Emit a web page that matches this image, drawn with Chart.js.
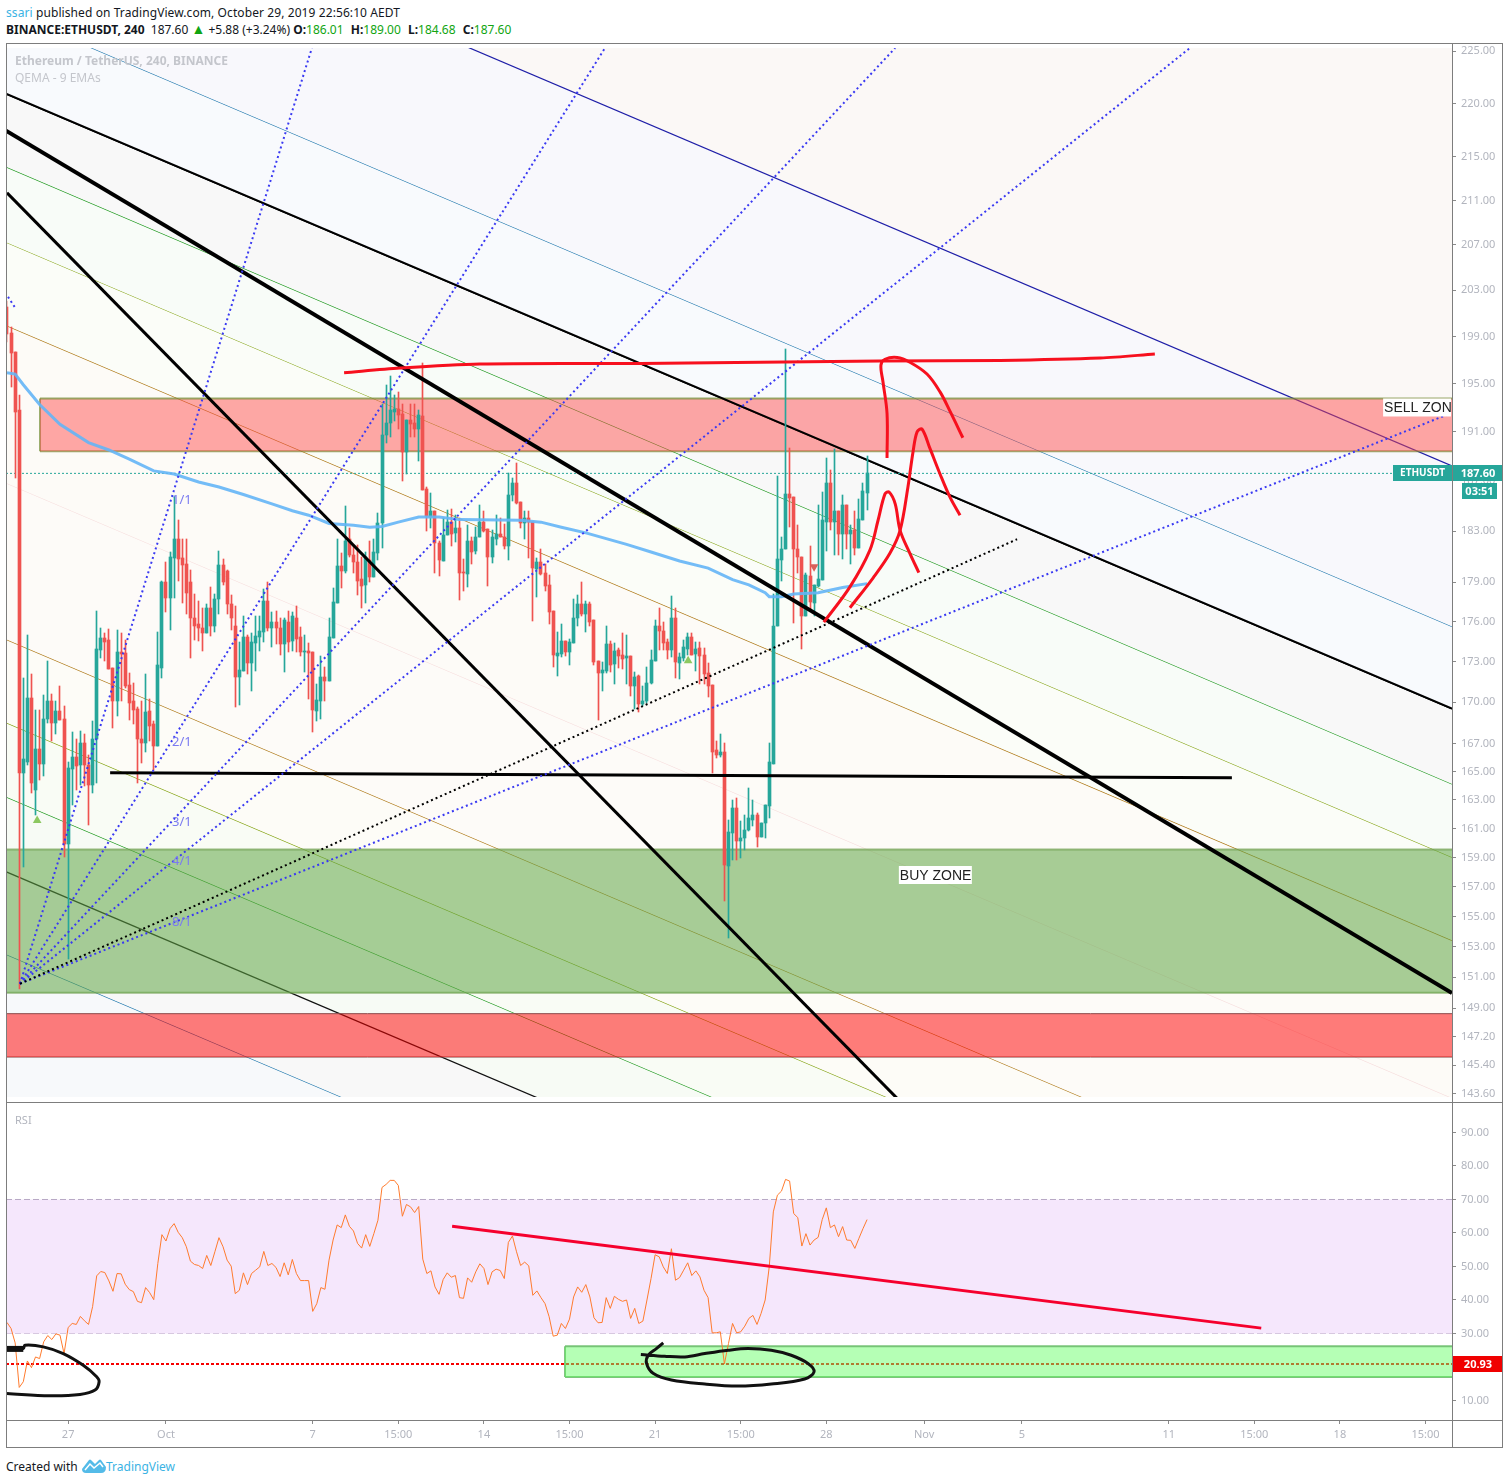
<!DOCTYPE html>
<html>
<head>
<meta charset="utf-8">
<title>ETHUSDT 240</title>
<script src="https://cdn.jsdelivr.net/npm/chart.js@4/dist/chart.umd.js"></script>
<style>
  html, body { margin: 0; padding: 0; background: #fff; }
  body { width: 1509px; height: 1484px; position: relative; overflow: hidden; font-family: "Noto Sans", sans-serif; }
  .abs { position: absolute; white-space: nowrap; }
  #priceWrap { position: absolute; left: 0; top: 43px; width: 1509px; height: 1059px; overflow: hidden; }
  #rsiWrap { position: absolute; left: 0; top: 1103px; width: 1509px; height: 344px; overflow: hidden; }
  .rule { position: absolute; background: #7d7d7d; }
  .gr { color: #11a511; }
  .bd { font-weight: 700; }
  .gap { margin-left: 4px; }
</style>
</head>
<body>
<div id="priceWrap"><canvas id="price" width="1509" height="1059"></canvas></div>
<div id="rsiWrap"><canvas id="rsi" width="1509" height="344"></canvas></div>

<div class="rule" style="left:6px;top:43px;width:1497px;height:1px"></div>
<div class="rule" style="left:6px;top:1102px;width:1497px;height:1px"></div>
<div class="rule" style="left:6px;top:1420px;width:1497px;height:1px"></div>
<div class="rule" style="left:6px;top:1447px;width:1497px;height:1px"></div>
<div class="rule" style="left:6px;top:43px;width:1px;height:1405px"></div>
<div class="rule" style="left:1452px;top:43px;width:1px;height:1405px"></div>
<div class="rule" style="left:1502px;top:43px;width:1px;height:1405px"></div>

<div class="abs" style="left:6px;top:4px;font-size:12px;line-height:17px;letter-spacing:0.09px;color:#131722"><span style="color:#3bb3e4">ssari</span> published on TradingView.com, October 29, 2019 22:56:10 AEDT</div>
<div class="abs" style="left:6px;top:21px;font-size:12px;line-height:17px;color:#131722"><span class="bd">BINANCE:ETHUSDT, 240</span>&nbsp; 187.60 <span class="gr" style="font-size:14px;line-height:14px">&#9650;</span> +5.88 (+3.24%) <span class="bd">O:</span><span class="gr">186.01</span> <span class="bd gap">H:</span><span class="gr">189.00</span> <span class="bd gap">L:</span><span class="gr">184.68</span> <span class="bd gap">C:</span><span class="gr">187.60</span></div>
<div class="abs" style="left:15px;top:52px;font-size:12px;line-height:17px;font-weight:700;color:#c4c6cc">Ethereum / TetherUS, 240, BINANCE</div>
<div class="abs" style="left:15px;top:69px;font-size:12px;line-height:17px;color:#c4c6cc">QEMA - 9 EMAs</div>
<div class="abs" style="left:15px;top:1111px;font-size:11px;line-height:17px;color:#b2b5be">RSI</div>

<div class="abs" style="left:6px;top:1458px;font-size:12px;line-height:17px;color:#131722">Created with</div>
<svg class="abs" style="left:82px;top:1458px" width="24" height="16" viewBox="0 0 24 16">
  <path d="M0 11 L7 2 Q8 1 9 2 L13 6 L17 2 Q18 1 19 2 L24 9 Q24 15 19 15 L4 15 Q0 15 0 11 Z" fill="#54bbe8"/>
  <path d="M3 12 L8 6 L12 10 L18 5 L21 9" fill="none" stroke="#fff" stroke-width="1.5"/>
</svg>
<div class="abs" style="left:106px;top:1458px;font-size:12px;line-height:17px;color:#3bb3e4">TradingView</div>

<script>
// OHLC, one row per 10 bars (4h bars)
const opens = [
  201.5,199.3,197.7,192.75,164.9,165.7,170.3,163.65,166.6,165.5,
  168.75,170.05,168.45,169.35,168.8,159.9,165.15,166.0,165.45,167.05,
  165.45,164.05,167.3,173.85,174.75,174.6,172.5,170.05,173.7,173.6,
  171.25,170.1,169.5,167.35,167.0,169.35,168.4,166.8,172.55,179.0,
  177.8,180.9,182.35,180.9,180.4,179.05,176.25,175.8,175.55,175.1,
  177.05,175.65,177.75,180.35,179.9,177.3,175.65,171.85,172.3,174.8,
  172.9,174.35,174.8,175.2,177.6,175.55,176.0,175.5,174.3,176.0,
  174.5,176.3,174.8,173.7,173.75,173.7,169.35,170.1,171.85,171.55,
  174.75,177.45,180.25,179.9,182.35,181.1,180.6,179.25,178.8,180.7,
  179.4,181.25,183.6,190.7,191.7,192.65,192.9,192.5,189.3,192.0,
  191.7,191.2,192.3,186.35,184.1,184.55,182.05,180.65,182.65,183.7,
  182.85,183.2,179.8,179.65,182.2,181.4,182.5,183.7,183.15,181.0,
  182.4,182.8,182.55,181.8,185.85,186.85,185.3,183.6,184.0,183.7,
  180.0,180.6,179.75,178.8,176.8,173.4,173.55,174.55,173.7,174.35,
  176.25,177.3,176.55,177.3,176.1,173.05,172.15,172.3,174.3,172.8,
  173.85,173.5,173.25,173.4,171.15,171.9,169.85,170.05,171.4,173.05,
  175.65,175.25,174.45,173.85,176.3,172.9,173.25,173.95,174.8,173.55,
  174.0,173.45,172.15,171.25,166.5,166.15,166.35,158.4,160.65,162.45,
  160.1,160.35,160.9,161.55,161.95,160.4,161.35,162.55,165.55,175.7,
  180.7,181.55,185.95,185.7,181.55,181.0,176.4,179.5,177.45,178.75,
  179.2,183.75,186.85,183.75,184.6,182.75,185.1,182.8,183.05,181.7,
  183.85,186.01
];
const highs = [
  202.1,199.85,197.7,194.0,171.8,174.95,172.05,169.45,169.45,170.55,
  173.05,170.6,170.1,171.15,169.7,165.65,167.8,167.35,167.9,167.65,
  166.15,168.6,176.8,175.55,175.1,175.4,172.5,175.35,175.1,174.6,
  172.15,171.4,169.65,170.05,172.05,170.2,168.6,175.2,179.1,180.55,
  181.35,185.8,183.9,182.35,182.4,179.95,178.1,177.6,177.05,177.35,
  178.65,178.1,181.4,180.8,179.95,178.05,177.2,174.45,176.45,174.95,
  175.1,176.45,176.4,178.5,179.05,176.75,176.8,176.3,176.3,176.8,
  176.75,177.15,175.6,174.95,174.35,173.7,171.35,173.4,172.6,176.3,
  178.6,182.4,181.25,185.0,183.2,181.9,181.9,180.95,181.35,182.25,
  182.35,184.4,193.3,194.9,195.65,194.05,194.3,193.25,192.0,193.3,
  193.25,192.8,196.7,186.5,186.05,184.55,182.25,184.0,184.7,184.75,
  184.25,184.0,180.8,183.45,182.5,183.35,185.1,184.55,183.15,183.05,
  184.25,184.0,183.55,187.65,187.25,188.45,185.3,184.6,184.6,183.7,
  180.85,181.55,180.4,179.55,176.8,175.2,175.8,174.55,174.65,177.75,
  178.05,179.05,177.6,177.5,176.1,173.05,172.95,175.7,174.5,174.35,
  174.0,175.1,174.95,173.4,172.2,172.0,171.2,172.6,173.85,176.1,
  177.0,176.0,174.65,177.95,177.05,173.6,174.6,175.1,175.1,174.45,
  174.45,174.0,172.9,171.25,167.2,167.65,167.05,161.55,163.0,163.15,
  161.5,161.9,163.85,162.95,162.05,161.4,162.65,167.0,178.1,187.4,
  182.55,197.95,189.65,185.7,183.45,181.0,179.7,181.8,178.8,185.1,
  186.1,188.85,187.9,189.55,184.6,185.9,185.1,183.45,184.55,185.55,
  186.85,189.0
];
const lows = [
  198.5,194.7,187.25,150.25,158.35,165.45,163.45,161.95,164.4,164.7,
  168.5,167.15,167.7,168.7,159.0,152.2,162.6,163.7,164.05,164.0,
  161.2,163.45,164.2,173.25,173.05,172.45,168.1,169.0,170.1,171.0,
  168.7,168.4,164.2,165.6,166.4,167.2,165.1,166.8,171.8,176.75,
  175.35,177.8,179.1,177.45,176.55,173.25,174.6,174.5,173.75,175.1,
  174.9,175.2,176.55,178.8,176.55,175.35,169.65,169.8,172.3,172.1,
  170.85,172.3,173.75,174.45,175.25,174.1,174.3,173.45,172.2,173.7,
  173.75,173.7,173.4,172.2,170.25,167.85,168.6,168.8,170.1,171.55,
  174.75,177.45,178.6,179.75,180.95,179.7,178.0,177.05,177.45,179.05,
  179.4,180.7,181.7,190.05,190.6,191.85,191.25,187.0,187.55,190.6,
  190.6,188.6,186.3,183.0,183.2,179.75,179.5,180.65,182.65,181.8,
  182.1,177.65,178.3,178.65,180.4,181.2,182.5,182.9,178.75,180.5,
  181.9,182.5,181.55,180.7,185.4,185.15,183.2,182.35,180.85,176.05,
  177.9,179.55,178.3,175.8,172.6,171.95,173.3,173.4,172.75,174.35,
  175.65,176.4,175.2,175.65,172.75,168.7,170.8,172.15,172.2,171.35,
  172.5,172.45,171.35,170.45,169.5,169.3,169.7,169.95,171.35,173.05,
  173.85,173.85,173.2,173.3,171.8,171.7,173.05,173.45,173.45,172.3,
  171.35,171.35,170.4,164.9,165.95,166.05,156.05,153.55,158.8,158.8,
  158.95,159.5,160.85,161.15,159.7,160.4,160.3,161.7,165.55,175.65,
  179.1,181.55,183.3,175.9,179.75,173.9,176.4,176.8,176.4,178.65,
  179.2,181.4,183.05,181.1,181.15,180.8,181.55,180.4,181.1,181.7,
  183.85,184.68
];
const closes = [
  199.2,197.55,192.65,164.9,165.9,170.3,164.2,166.6,165.5,168.8,
  170.05,168.45,169.35,168.7,159.9,165.25,166.0,165.4,167.05,165.45,
  164.05,167.35,173.9,174.75,174.45,172.45,170.05,173.7,173.55,171.2,
  169.95,169.45,167.35,167.05,169.3,168.25,166.8,172.75,179.05,177.8,
  180.95,182.35,180.8,180.35,178.2,176.25,175.7,175.55,175.15,177.05,
  175.65,177.75,180.35,179.05,177.3,176.25,171.85,172.4,174.8,172.9,
  174.45,174.9,175.25,177.6,175.55,175.95,175.5,174.3,176.1,174.45,
  176.4,174.65,173.7,173.75,173.6,169.45,170.15,171.85,171.55,174.8,
  177.5,180.25,179.9,182.25,181.1,180.55,179.1,178.75,180.95,179.4,
  181.35,183.6,190.75,191.75,192.75,192.9,192.4,189.3,192.0,191.6,
  191.2,192.4,186.3,184.15,184.55,182.05,180.7,182.7,183.7,182.75,
  183.2,179.75,179.75,182.2,181.35,182.55,183.7,183.0,181.0,182.5,
  182.8,182.5,181.8,185.9,186.85,185.25,183.6,184.0,183.7,180.1,
  180.55,179.65,178.75,176.75,173.45,173.65,174.55,173.7,174.45,176.3,
  177.3,176.55,177.3,176.0,172.95,172.15,172.4,174.3,172.75,173.75,
  173.4,173.2,173.4,171.15,171.85,169.85,170.1,171.4,173.1,175.65,
  175.25,174.35,173.85,176.3,172.95,173.3,174.05,174.8,173.45,173.9,
  173.4,172.1,171.2,166.35,166.15,166.35,158.45,160.75,162.45,160.1,
  160.35,160.9,161.7,161.95,160.4,161.4,162.6,165.65,175.65,180.8,
  181.55,185.95,185.6,181.55,180.95,176.4,179.55,177.5,178.8,179.25,
  183.85,186.85,183.75,184.6,182.75,185.1,182.8,183.05,181.7,183.95,
  186.15,187.6
];
const rsiValues = [
  33.3,31.5,27.2,13.9,15.6,21.8,19.8,23.0,22.5,27.5,
  29.4,28.2,29.9,29.5,24.0,31.8,33.0,32.7,35.1,33.8,
  32.7,38.0,47.2,48.5,48.2,45.7,42.6,47.9,47.8,44.7,
  43.1,42.5,39.6,39.2,43.7,42.2,40.1,50.9,59.5,57.6,
  61.3,62.8,60.2,58.6,55.9,51.6,50.6,50.3,49.4,53.3,
  50.3,54.4,58.6,55.9,51.9,50.1,41.9,42.9,48.1,44.6,
  47.9,48.9,49.9,54.5,50.3,50.9,49.7,47.0,51.1,47.5,
  52.1,47.9,45.8,45.8,45.8,36.6,38.9,43.7,43.2,51.9,
  57.9,62.4,61.6,65.4,62.0,60.6,56.9,55.5,59.5,56.0,
  59.8,63.8,73.6,74.5,75.7,75.7,74.2,65.0,68.5,67.8,
  66.1,67.9,52.2,47.9,48.7,43.9,41.7,46.1,48.1,46.8,
  47.3,40.7,40.5,46.6,45.3,48.4,50.8,49.4,44.6,48.4,
  49.2,48.8,46.4,57.2,59.1,54.4,50.3,51.3,50.2,41.4,
  42.7,40.7,38.9,35.0,29.2,29.5,33.0,31.5,34.3,40.9,
  43.9,42.3,44.6,40.9,34.7,33.2,33.3,40.7,37.5,41.1,
  40.2,39.6,40.0,34.5,37.5,33.0,33.7,40.0,46.4,53.5,
  52.9,49.9,47.9,55.3,45.9,46.7,48.9,51.1,47.3,48.7,
  46.9,42.9,40.7,30.2,30.2,30.5,20.93,27.0,33.0,30.2,
  30.5,32.2,34.5,35.4,32.7,36.0,40.0,49.9,66.3,71.3,
  72.5,76.0,75.5,65.8,64.6,56.1,59.8,56.4,57.9,58.7,
  64.0,67.5,61.6,62.4,58.9,61.9,57.9,57.8,55.4,58.4,
  61.3,64.0
];

// 200 period ema, only the corner points of the drawn line
const emaBars = [0,2,4,8,13,20,25,30,36,41,47,52,58,65,70,74,79,85,89,92,96,101,106,111,126,131,136,142,147,152,158,165,172,178,182,186,187,190,193,199,205,211];
const emaValues = [195.9,195.8,194.9,193.25,191.6,190.1,189.5,188.75,187.8,187.55,186.9,186.5,185.9,185.15,184.6,184.25,183.6,183.45,183.3,183.35,183.7,184.1,184.1,183.9,183.85,183.7,183.3,182.85,182.4,181.95,181.35,180.65,180.1,179.2,178.8,178.2,177.9,177.9,178.1,178.2,178.6,178.9];

// axes
const priceTicks = [225,220,215,211,207,203,199,195,191,187,183,179,176,173,170,167,165,163,161,159,157,155,153,151,149,147.2,145.4,143.6];
const rsiTicks = [90,80,70,60,50,40,30,10];
const xTickBars = [15,39,75,96,117,138,159,180,201,225,249,285,306,327,348];
const xTickLabels = ['27','Oct','7','15:00','14','15:00','21','15:00','28','Nov','5','11','15:00','18','15:00'];
const lastPrice = 187.6;
const rsiLevel = 20.93;

// channel lines: price at the left and right edge of the pane, top to bottom
const channelLeft = [245.3,228.9,220.94,214.08,207.24,199.95,186.83,174.66,168.51,163.21,158.07,152.5];
const channelRight = [188.2,175.63,169.52,164.11,159.01,153.42,143.35,134.0,129.29,125.22,121.27,117.0];
const channelColors = ['#1f1fa8','#1f78ad','#000000','#1f9a1f','#84a312','#b07c1c','#f6dcdc','#b07c1c','#84a312','#1f9a1f','#111111','#1f78ad'];
const channelWidths = [1.2,1.2,2,1.2,1.2,1.2,1.2,1.2,1.2,1.2,2.5,1.2];
const channelFills = ['#f8f8fc','#f8fafd','#f8f8f8','#f8fcf8','#fbfdf8','#fdfbf7','#fdfbf8','#fdfcf7','#f9fcf5','#f7fbf5','#f8f8f8','#f7f9fb'];
const aboveChannelFill = '#fbf8f6';

// other drawn lines [bar, price]
const thickLine = [[-0.25,217.44],[354.5,149.98]];
const steepLine = [[0,211.7],[231.4,140.03]];
const flatLine = [[25.3,164.9],[300.5,164.55]];
const fanOrigin = [3.19,150.58];
const fanEnds = [[74.8,225.32],[146.7,225.32],[217.9,225.32],[290.2,225.32],[353.3,192.4]];
const fanStub = [[0.25,202.42],[1.96,201.5]];
const dottedBlack = [[3.19,150.58],[247.8,182.35]];
const resistance = [[82.7,195.9],[96.4,196.3],[116,196.65],[155.3,196.7],[214.2,196.9],[243.6,196.95],[268.2,197.15],[281.6,197.5]];
const curveA = [[215.9,188.85],[215.9,192.5],[214.9,195.15],[214.4,196.55],[215.4,197.05],[218.4,197.2],[221.5,196.8],[225.7,195.8],[228.9,194.3],[231.4,192.65],[234.5,190.5]];
const curveB = [[206.8,177.05],[212.5,179.35],[216.6,181.25],[219.1,183.05],[221,186.45],[222.3,189.4],[223.3,191],[224.5,191.2],[226.4,189.65],[228.9,187.55],[231.4,185.65],[233.8,184.25]];
const curveC = [[200.4,175.95],[206.8,178.65],[211.7,181.5],[213.7,183.85],[215.4,185.95],[216.4,186.1],[217.9,185.15],[219.1,183.05],[221.5,181.25],[223.7,179.75]];

// zones [first bar, last bar, top, bottom]
const sellZone = [8.1,354.5,193.75,189.4];
const buyZone = [-0.25,354.5,159.55,150];
const lowerZone = [-0.25,354.5,148.65,145.9];

// markers and notes on the price pane
const upMarks = [[7.4,161.55],[167.1,173.05]];
const downMarks = [[198,180.2]];
const fanLabels = ['1/1','2/1','3/1','4/1','8/1'];
const fanLabelBar = 40.5;
const fanLabelPrices = [185.4,167.1,161.4,158.75,154.6];
const notes = [['SELL ZONE',337.6,193.0,70],['BUY ZONE',218.8,157.8,73]];

// rsi pane drawings [bar, rsi]
const rsiTrend = [[109.2,62.0],[307.7,31.6]];
const rsiGreenBox = [136.9,354.5,26.2,17.0];
const rsiBlobA = [[0,25.5],[4,25.5],[4.4,26.5],[8.9,26.0],[13.8,24.0],[18.7,20.5],[22,17.1],[22.6,15.6],[21.6,13.1],[17.9,11.8],[10.5,11.4],[0,12.1]];
const rsiBlobStub = [[0,25.4],[4,25.4]];
const rsiBlobB = [[161,27.2],[159.3,25.5],[157.3,23.5],[156.9,21.05],[158.5,18.1],[163,16.1],[171.2,14.9],[179.3,14.3],[187.5,14.9],[195.7,16.4],[198,18.6],[196.5,21.05],[192.4,23.5],[187.5,25.0],[181.8,25.5],[176.9,25.0],[171.2,24.0],[166.3,23.0],[161.3,23.2],[155.5,23.7]];

const UP = '#26a69a';
const DOWN = '#ef5350';
const AXIS_TEXT = '#b2b5be';
const BAR_MIN = -0.245;
const BAR_MAX = 354.5;
const TICK_FONT = { family: '"Noto Sans", sans-serif', size: 11 };

const toXY = pts => pts.map(p => ({ x: p[0], y: p[1] }));

function lineSet(pts, color, width, order, extra) {
  return Object.assign({
    type: 'line', data: toXY(pts), borderColor: color, borderWidth: width,
    pointRadius: 0, fill: false, order: order, tension: 0
  }, extra || {});
}

// three line sets: top edge filled down to the bottom edge, plus the left edge
function zoneSets(z, fillColor, edgeColor, edgeWidth, order) {
  const top = [[z[0], z[2]], [z[1], z[2]]];
  const bottom = [[z[0], z[3]], [z[1], z[3]]];
  const side = [[z[0], z[2]], [z[0], z[3]]];
  return [
    lineSet(top, edgeColor, edgeWidth, order, { fill: '+1', backgroundColor: fillColor }),
    lineSet(bottom, edgeColor, edgeWidth, order),
    lineSet(side, edgeColor, edgeWidth, order)
  ];
}

// candles come as two floating bar sets, wicks first
const barNums = opens.map((_, i) => i);
const candleColors = opens.map((o, i) => closes[i] >= o ? UP : DOWN);
const wickSet = {
  type: 'bar', order: 20, grouped: false, barThickness: 1,
  data: barNums.map(i => ({ x: i, y: [lows[i], highs[i]] })),
  backgroundColor: candleColors
};
const bodySet = {
  type: 'bar', order: 19, grouped: false, barThickness: 3,
  data: barNums.map(i => ({ x: i, y: [opens[i], closes[i]] })),
  backgroundColor: candleColors
};

const channelSets = channelLeft.map((v, i) => lineSet(
  [[BAR_MIN, v], [BAR_MAX, channelRight[i]]], channelColors[i], channelWidths[i], 100,
  i === channelLeft.length - 1
    ? { fill: 'start', backgroundColor: channelFills[i] }
    : { fill: '+1', backgroundColor: channelFills[i] }
));
// the band above the first line and the black channel line get their own sets
const topBand = lineSet([[BAR_MIN, channelLeft[0]], [BAR_MAX, channelRight[0]]], 'rgba(0,0,0,0)', 0, 101, { fill: 'end', backgroundColor: aboveChannelFill });
const blackChannel = lineSet([[BAR_MIN, channelLeft[2]], [BAR_MAX, channelRight[2]]], '#000', 2, 30);

const fanSets = fanEnds.map(e => lineSet([fanOrigin, e], '#3a3af2', 2, 10, { borderDash: [2, 3] }));

const priceDatasets = [topBand].concat(channelSets,
  zoneSets(sellZone, 'rgba(255,70,70,0.47)', 'rgba(112,140,50,0.7)', 2, 50),
  zoneSets(buyZone, 'rgba(96,165,70,0.55)', 'rgba(112,160,80,0.7)', 2, 50),
  zoneSets(lowerZone, 'rgba(255,0,0,0.51)', '#8c4a4a', 1, 50),
  [
    blackChannel,
    wickSet, bodySet,
    lineSet([[BAR_MIN, lastPrice], [BAR_MAX, lastPrice]], UP, 1, 25, { borderDash: [2, 2] }),
    lineSet(emaBars.map((b, i) => [b, emaValues[i]]), 'rgba(100,181,246,0.9)', 3, 15),
    lineSet(thickLine, '#000', 4, 12),
    lineSet(steepLine, '#000', 3, 12),
    lineSet(flatLine, '#000', 3, 12),
    lineSet(fanStub, '#3a3af2', 2, 10, { borderDash: [2, 3] }),
    lineSet(dottedBlack, '#000', 2, 10, { borderDash: [2, 3] })
  ],
  fanSets,
  [
    lineSet(resistance, '#f7101e', 3, 5, { tension: 0.3 }),
    lineSet(curveA, '#f7101e', 3, 5, { tension: 0.35 }),
    lineSet(curveB, '#f7101e', 3, 5, { tension: 0.35 }),
    lineSet(curveC, '#f7101e', 3, 5, { tension: 0.35 }),
    {
      type: 'line', data: toXY(upMarks), showLine: false, order: 8, pointStyle: 'triangle',
      pointRadius: 5, pointBackgroundColor: '#8cc860', pointBorderWidth: 0
    },
    {
      type: 'line', data: toXY(downMarks), showLine: false, order: 8, pointStyle: 'triangle',
      pointRotation: 180, pointRadius: 5, pointBackgroundColor: '#d9605a', pointBorderWidth: 0
    }
  ]);

// snap bars to whole pixels so wicks stay one pixel wide
const crispBars = {
  id: 'crispBars',
  afterDatasetsUpdate(chart) {
    chart.data.datasets.forEach((ds, n) => {
      if (ds.type !== 'bar') return;
      chart.getDatasetMeta(n).data.forEach(el => {
        el.x = Math.floor(el.x) + 0.5;
        const a = Math.round(el.y), b = Math.round(el.base);
        el.y = a;
        el.base = a === b ? a + 1 : b;
      });
    });
  }
};

function boxText(ctx, left, top, w, h, fill, text, font) {
  ctx.fillStyle = fill;
  ctx.fillRect(left, top, w, h);
  ctx.fillStyle = '#fff';
  ctx.font = font;
  ctx.textAlign = 'center';
  ctx.textBaseline = 'middle';
  ctx.fillText(text, left + w / 2, top + h / 2 + 0.5);
}

const priceNotes = {
  id: 'priceNotes',
  afterDatasetsDraw(chart) {
    const { ctx, chartArea, scales } = chart;
    ctx.save();
    ctx.beginPath();
    ctx.rect(chartArea.left, chartArea.top, chartArea.right - chartArea.left - 1, chartArea.bottom - chartArea.top);
    ctx.clip();
    ctx.textBaseline = 'middle';
    ctx.textAlign = 'left';
    ctx.font = '13px "Noto Sans", sans-serif';
    ctx.fillStyle = '#7b7bf0';
    fanLabels.forEach((t, i) => {
      ctx.fillText(t, scales.x.getPixelForValue(fanLabelBar), scales.y.getPixelForValue(fanLabelPrices[i]));
    });
    ctx.font = '14px "Liberation Sans", sans-serif';
    notes.forEach(n => {
      const x = scales.x.getPixelForValue(n[1]);
      const y = scales.y.getPixelForValue(n[2]);
      ctx.fillStyle = '#fff';
      ctx.fillRect(x, y - 9, n[3], 18);
      ctx.fillStyle = '#222';
      ctx.fillText(n[0], x + 1, y + 1);
    });
    ctx.restore();
  },
  afterDraw(chart) {
    const { ctx, scales } = chart;
    const y = Math.round(scales.y.getPixelForValue(lastPrice));
    ctx.save();
    boxText(ctx, 1393, y - 8, 59, 16, UP, 'ETHUSDT', '700 10px "Noto Sans", sans-serif');
    boxText(ctx, 1453, y - 8, 50, 16, UP, lastPrice.toFixed(2), '700 11px "Noto Sans", sans-serif');
    boxText(ctx, 1462, y + 10, 35, 16, UP, '03:51', '700 11px "Noto Sans", sans-serif');
    ctx.restore();
  }
};

const rsiNotes = {
  id: 'rsiNotes',
  afterDraw(chart) {
    const { ctx, scales } = chart;
    const y = Math.round(scales.y.getPixelForValue(rsiLevel));
    ctx.save();
    boxText(ctx, 1453, y - 8, 50, 16, '#f00000', rsiLevel.toFixed(2), '700 11px "Noto Sans", sans-serif');
    ctx.restore();
  }
};

function yAxis(extra) {
  return Object.assign({
    position: 'right',
    bounds: 'data',
    border: { display: false },
    grid: { drawOnChartArea: false, drawTicks: true, tickLength: 4, tickColor: '#8a8a8a' },
    afterFit(s) { s.width = 50; s.paddingTop = 0; s.paddingBottom = 0; }
  }, extra);
}

new Chart(document.getElementById('price'), {
  type: 'bar',
  data: { datasets: priceDatasets },
  plugins: [crispBars, priceNotes],
  options: {
    responsive: false, animation: false, devicePixelRatio: 1, events: [],
    layout: { padding: { left: 6, right: 7, top: 0, bottom: 0 } },
    plugins: { legend: { display: false }, tooltip: { enabled: false }, filler: { propagate: false } },
    scales: {
      x: { type: 'linear', offset: false, min: BAR_MIN, max: BAR_MAX, display: false },
      y: yAxis({
        type: 'logarithmic', min: 143.41, max: 225.32,
        ticks: { autoSkip: false, padding: 5, color: AXIS_TEXT, font: TICK_FONT, callback: v => Number(v).toFixed(2) },
        afterBuildTicks(s) { s.ticks = priceTicks.map(v => ({ value: v })); }
      })
    }
  }
});

const bandTop = [[BAR_MIN, 70], [BAR_MAX, 70]];
const bandBottom = [[BAR_MIN, 30], [BAR_MAX, 30]];
const rsiDatasets = [
  lineSet(bandTop, '#b9a9c6', 1, 40, { fill: '+1', backgroundColor: '#f5e7fc', borderDash: [6, 3] }),
  lineSet(bandBottom, '#b9a9c6', 1, 40, { borderDash: [6, 3] }),
  lineSet([[BAR_MIN, rsiLevel], [BAR_MAX, rsiLevel]], '#f50000', 2, 35, { borderDash: [3, 2] })
].concat(
  zoneSets(rsiGreenBox, 'rgba(100,255,100,0.48)', 'rgba(110,190,110,0.9)', 2, 30),
  [
    lineSet(barNums.map(i => [i, rsiValues[i]]), '#ff7b2e', 1, 20),
    lineSet(rsiTrend, '#f5002d', 3, 10),
    lineSet(rsiBlobA, '#111', 3, 5, { tension: 0.35 }),
    lineSet(rsiBlobStub, '#111', 6, 5),
    lineSet(rsiBlobB, '#111', 3, 5, { tension: 0.35 })
  ]
);

new Chart(document.getElementById('rsi'), {
  type: 'bar',
  data: { datasets: rsiDatasets },
  plugins: [rsiNotes],
  options: {
    responsive: false, animation: false, devicePixelRatio: 1, events: [],
    layout: { padding: { left: 6, right: 7, top: 0, bottom: 0 } },
    plugins: { legend: { display: false }, tooltip: { enabled: false }, filler: { propagate: false } },
    scales: {
      x: {
        type: 'linear', offset: false, min: BAR_MIN, max: BAR_MAX,
        border: { display: false },
        grid: { offset: false, drawOnChartArea: false, drawTicks: true, tickLength: 4, tickColor: '#8a8a8a' },
        ticks: {
          autoSkip: false, maxRotation: 0, padding: 4, color: AXIS_TEXT, font: TICK_FONT,
          callback: v => xTickLabels[xTickBars.indexOf(v)]
        },
        afterBuildTicks(s) { s.ticks = xTickBars.map(v => ({ value: v })); },
        afterFit(s) { s.height = 27; s.paddingLeft = 0; s.paddingRight = 0; }
      },
      y: yAxis({
        type: 'linear', min: 4.18, max: 98.8,
        ticks: { autoSkip: false, padding: 5, color: AXIS_TEXT, font: TICK_FONT, callback: v => Number(v).toFixed(2) },
        afterBuildTicks(s) { s.ticks = rsiTicks.map(v => ({ value: v })); }
      })
    }
  }
});
</script>
</body>
</html>
